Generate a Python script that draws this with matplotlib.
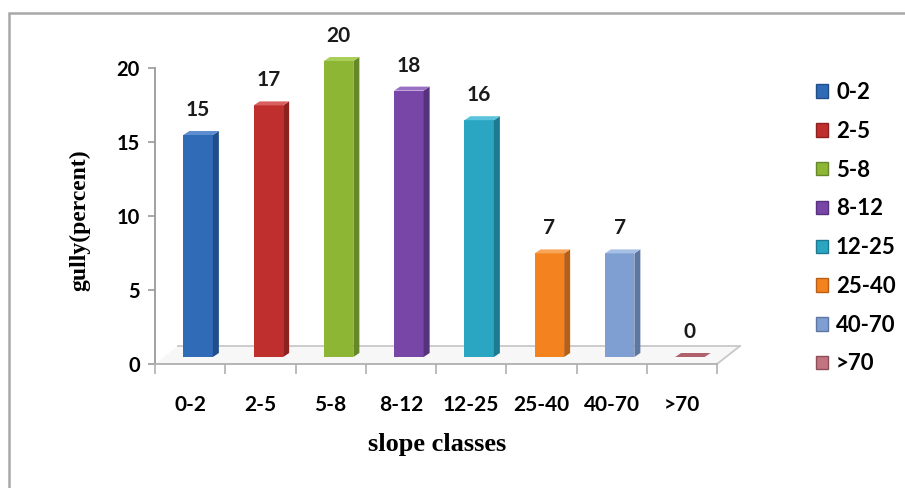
import matplotlib
matplotlib.use("Agg")
import matplotlib.pyplot as plt
from matplotlib.patches import Polygon, Rectangle, Patch
import numpy as np

# Gully share per slope class
categories = ["0-2", "2-5", "5-8", "8-12", "12-25", "25-40", "40-70", ">70"]
values = [15, 17, 20, 18, 16, 7, 7, 0]
y_ticks = [0, 5, 10, 15, 20]

front_colors = ["#2F6BB7", "#BF2F2D", "#8CB634", "#7746A6", "#2AA6C3", "#F4821F", "#7F9FD2", "#C27580"]
side_colors = ["#214E88", "#8C2120", "#67882A", "#56317C", "#1E7A91", "#B85F15", "#5D77A3", "#8E4E58"]
top_colors = ["#5D8ED0", "#D9605E", "#AACE5A", "#9A70C4", "#5CC3DC", "#F8A55A", "#A6BFE4", "#B0606B"]

W, H = 905, 488
fig = plt.figure(figsize=(W / 100, H / 100), dpi=100)

# plot area in pixel coordinates
x0, x1 = 155, 717
y_zero, y_top = 364, 68
ax = fig.add_axes([x0 / W, 1 - y_zero / H, (x1 - x0) / W, (y_zero - y_top) / H])
n = len(categories)
ax.set_xlim(-0.5, n - 0.5)
ax.set_ylim(0, 20)

px_x = (x1 - x0) / n          # pixels per category
px_y = (y_zero - y_top) / 20  # pixels per unit

def dx(p):
    return p / px_x

def dy(p):
    return p / px_y

# floor of the 3D box
floor_d = (dx(23), dy(18))
floor = Polygon([(-0.5, 0), (n - 0.5, 0), (n - 0.5 + floor_d[0], floor_d[1]),
                 (-0.5 + floor_d[0], floor_d[1])], closed=True,
                facecolor="#F7F7F7", edgecolor="none", clip_on=False, zorder=1)
ax.add_patch(floor)
ax.plot([-0.5 + floor_d[0], n - 0.5 + floor_d[0]], [floor_d[1], floor_d[1]],
        color="#C8C8C8", lw=1.3, clip_on=False, zorder=1.5)
ax.plot([n - 0.5, n - 0.5 + floor_d[0]], [0, floor_d[1]],
        color="#C8C8C8", lw=1.3, clip_on=False, zorder=1.5)

# bars: front face, side face, top face
bw = 0.42
off_x, off_y = dx(8), dy(7)
dep_x, dep_y = dx(6), dy(4)
xs = np.arange(n)
ax.bar(xs + off_x, values, width=bw, bottom=off_y, color=front_colors,
       edgecolor="none", zorder=3, clip_on=False)
for i, v in enumerate(values):
    xr = xs[i] + off_x + bw / 2
    xl = xs[i] + off_x - bw / 2
    top = v + off_y
    side = Polygon([(xr, off_y), (xr + dep_x, off_y + dep_y), (xr + dep_x, top + dep_y), (xr, top)],
                   closed=True, facecolor=side_colors[i], edgecolor="none", zorder=3, clip_on=False)
    cap = Polygon([(xl, top), (xr, top), (xr + dep_x, top + dep_y), (xl + dep_x, top + dep_y)],
                  closed=True, facecolor=top_colors[i], edgecolor="none", zorder=3.5, clip_on=False)
    ax.add_patch(side)
    ax.add_patch(cap)
    ax.annotate(str(v), (xs[i] + off_x, top), xytext=(0, 18), textcoords="offset points",
                ha="center", va="center", fontsize=15, fontweight="bold",
                family="Lato", color="#1A1A1A", annotation_clip=False)

# axes styling
for s in ["top", "right"]:
    ax.spines[s].set_visible(False)
ax.spines["left"].set_color("#9A9A9A")
ax.spines["left"].set_linewidth(1.3)
ax.spines["bottom"].set_color("#B0B0B0")
ax.spines["bottom"].set_linewidth(1.3)
ax.set_yticks(y_ticks)
ax.set_yticklabels([str(t) for t in y_ticks], fontsize=14.5, fontweight="bold", family="Lato")
ax.set_xticks(np.arange(n + 1) - 0.5, minor=False)
ax.set_xticklabels([])
ax.set_xticks(xs, minor=True)
ax.set_xticklabels(categories, minor=True, fontsize=15, fontweight="bold", family="Lato")
ax.tick_params(axis="x", which="major", length=7, color="#B0B0B0", width=1.2)
ax.tick_params(axis="x", which="minor", length=0, pad=22)
ax.tick_params(axis="y", length=5, color="#9A9A9A", width=1.2, pad=6)
ax.set_facecolor("none")

ax.set_xlabel("slope classes", fontsize=19, fontweight="bold", family="Liberation Serif", va="center")
ax.xaxis.set_label_coords((437 - x0) / (x1 - x0), (y_zero - 445) / (y_zero - y_top))
ax.set_ylabel("gully(percent)", fontsize=17, fontweight="bold", family="Liberation Serif", va="center")
ax.yaxis.set_label_coords((80 - x0) / (x1 - x0), (y_zero - 220) / (y_zero - y_top))

# legend
handles = [Patch(facecolor=c, edgecolor=s) for c, s in zip(front_colors, side_colors)]
leg = fig.legend(handles, categories, loc="upper left", bbox_to_anchor=(796 / W, 1 - 62 / H),
                 frameon=False, handlelength=0.55, handleheight=0.55, handletextpad=0.35,
                 labelspacing=0.8, prop={"family": "Lato", "weight": "bold", "size": 16})

# outer chart border
fig.patches.append(Rectangle((9 / W, -0.1), 1.1, (H - 13) / H + 0.1, transform=fig.transFigure,
                             fill=False, edgecolor="#A8A8A8", lw=1.8))

fig.savefig("out.png", dpi=100)
